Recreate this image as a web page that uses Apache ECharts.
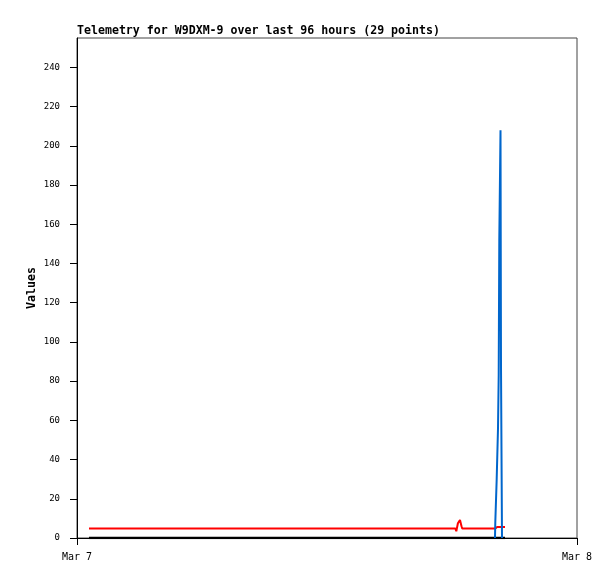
<!DOCTYPE html>
<html>
<head>
<meta charset="utf-8">
<script src="https://cdn.jsdelivr.net/npm/echarts@6/dist/echarts.min.js"></script>
<style>html,body{margin:0;padding:0;background:#fff}#c{width:615px;height:579px}</style>
</head>
<body>
<div id="c"></div>
<script>
// minutes after Mar 7 00:00
const xTickLabels = ['Mar 7', 'Mar 8'];
const blackTimes = [34.6, 600, 1090, 1204, 1232.6];
const blackValues = [0, 0, 0, 0, 0];
const redTimes = [34.6, 1090, 1092.4, 1097, 1103, 1107.4, 1109.7, 1204, 1210, 1232.6];
const redValues = [4.8, 4.8, 3.4, 7.5, 9.2, 6, 4.8, 4.8, 5.6, 5.6];
const blueTimes = [1203.8, 1204.7, 1208.7, 1212.5, 1214.5, 1216.2, 1219.7, 1221.1, 1224.0];
const blueValues = [0, 8, 30, 56, 83, 152, 208, 88, 0];

const zip = (t, v) => t.map((x, i) => [x, v[i]]);
const mono = 'DejaVu Sans Mono';
const chart = echarts.init(document.getElementById('c'), null, {renderer: 'canvas'});
chart.setOption({
  animation: false,
  backgroundColor: '#fff',
  title: {
    text: 'Telemetry for W9DXM-9 over last 96 hours (29 points)',
    left: 77, top: 25, padding: 0,
    textStyle: {fontFamily: mono, fontSize: 11.6, fontWeight: 'bold', color: '#000'}
  },
  grid: {left: 77, top: 38, right: 38, bottom: 41, show: true, borderColor: '#444', borderWidth: 1},
  xAxis: {
    type: 'value', min: 0, max: 1440, interval: 1440,
    axisLine: {lineStyle: {color: '#000', width: 1}},
    axisTick: {length: 7, lineStyle: {color: '#000'}},
    splitLine: {show: false},
    axisLabel: {
      margin: 14, fontFamily: mono, fontSize: 10, color: '#000',
      formatter: v => v === 0 ? xTickLabels[0] : (v === 1440 ? xTickLabels[1] : '')
    }
  },
  yAxis: {
    type: 'value', min: 0, max: 255, interval: 20,
    name: 'Values', nameLocation: 'middle', nameGap: 39, nameMoveOverlap: false,
    nameTextStyle: {fontFamily: mono, fontSize: 11.6, fontWeight: 'bold', color: '#000'},
    axisLine: {show: true, lineStyle: {color: '#000', width: 1}},
    axisTick: {length: 7, lineStyle: {color: '#000'}},
    splitLine: {show: false},
    axisLabel: {margin: 17, fontFamily: mono, fontSize: 9, color: '#000', showMaxLabel: false}
  },
  series: [
    {type: 'line', data: zip(blackTimes, blackValues), showSymbol: false, lineStyle: {color: '#000', width: 2.5}, z: 2},
    {type: 'line', data: zip(redTimes, redValues), showSymbol: false, lineStyle: {color: '#ff0000', width: 2}, z: 3},
    {type: 'line', step: 'end', data: zip(blueTimes, blueValues), showSymbol: false, lineStyle: {color: '#0066cc', width: 2}, z: 4}
  ]
});
</script>
</body>
</html>
